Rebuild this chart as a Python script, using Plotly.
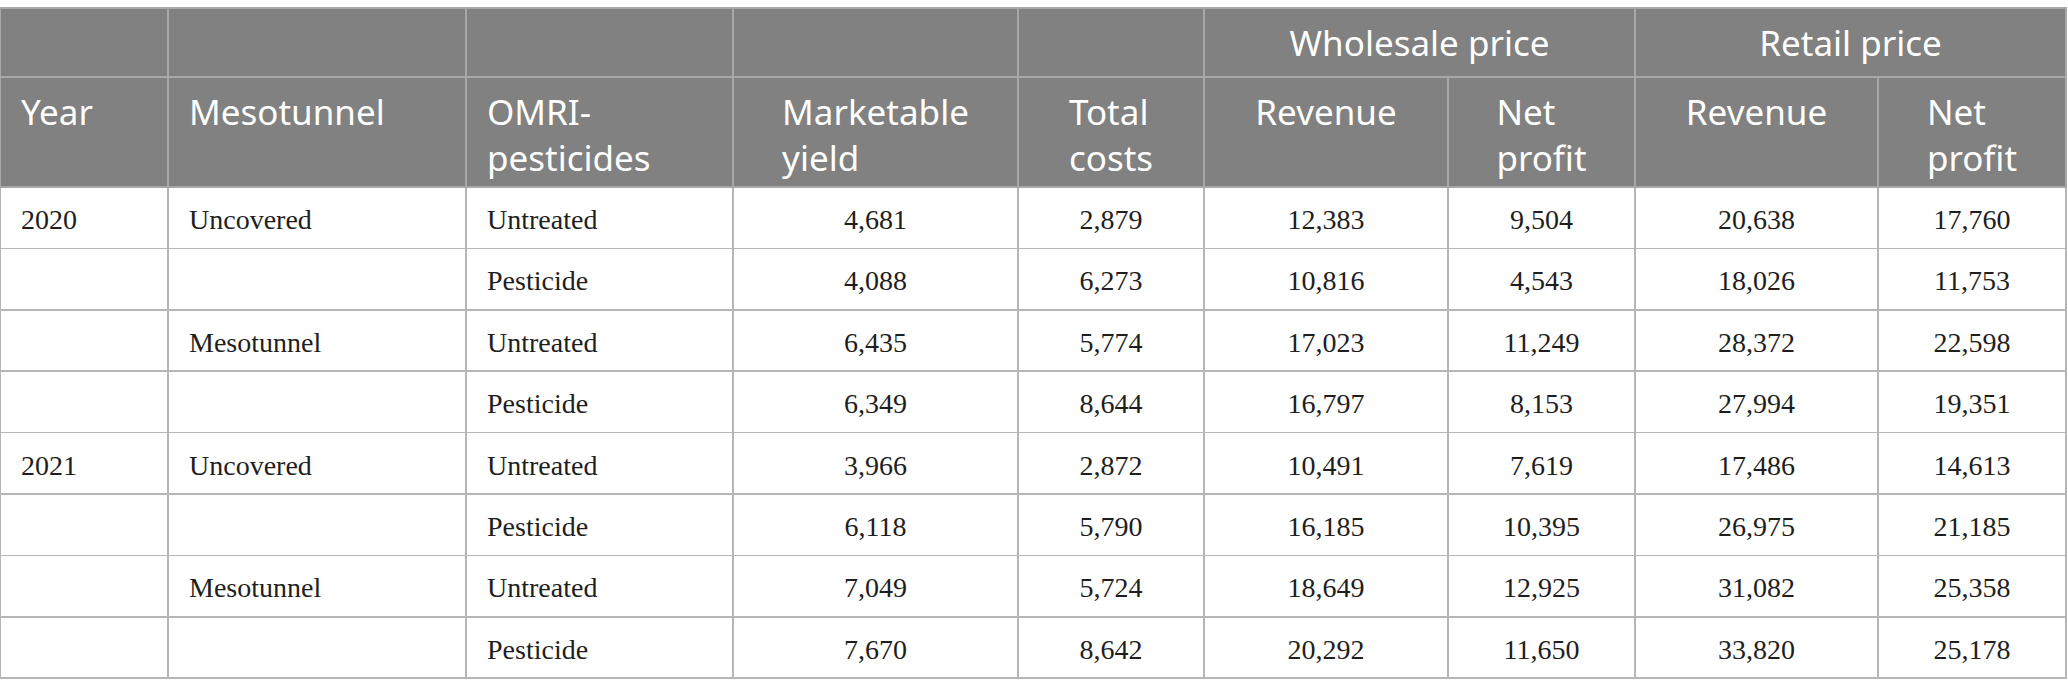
import plotly.graph_objects as go

# table data
years = ['2020', '', '', '', '2021', '', '', '']
tunnel = ['Uncovered', '', 'Mesotunnel', '', 'Uncovered', '', 'Mesotunnel', '']
pesticides = ['Untreated', 'Pesticide'] * 4
market_yield = [4681, 4088, 6435, 6349, 3966, 6118, 7049, 7670]
total_costs = [2879, 6273, 5774, 8644, 2872, 5790, 5724, 8642]
ws_revenue = [12383, 10816, 17023, 16797, 10491, 16185, 18649, 20292]
ws_profit = [9504, 4543, 11249, 8153, 7619, 10395, 12925, 11650]
rt_revenue = [20638, 18026, 28372, 27994, 17486, 26975, 31082, 33820]
rt_profit = [17760, 11753, 22598, 19351, 14613, 21185, 25358, 25178]

group_labels = ['', '', '', '', '', 'Wholesale price', 'Retail price']
col_labels = ['Year', 'Mesotunnel', 'OMRI-<br>pesticides', 'Marketable<br>yield',
              'Total<br>costs', 'Revenue', 'Net<br>profit', 'Revenue', 'Net<br>profit']

col_widths = [168, 298, 267, 285, 186, 244, 187, 243, 188]
group_widths = col_widths[:5] + [col_widths[5] + col_widths[6], col_widths[7] + col_widths[8]]

W, H = 2068, 696
top, row1, row2, body_h = 8, 69, 110, 61.4
x_end = sum(col_widths) / W
n_rows = len(years)

# plotly puts cell text at the top of a cell; the text layers are drawn as
# separate transparent tables nudged down so the text sits like the original
shift_group, shift_head, shift_body = 3, 3, 9
left_pad = 13

head_fill = 'rgb(128,129,128)'
head_line = 'rgb(168,168,168)'
body_line = 'rgb(182,182,182)'
clear = 'rgba(0,0,0,0)'
head_font = dict(family='Noto Sans', size=35, color='white')
body_font = dict(family='Liberation Serif', size=28, color='rgb(30,30,30)')


def lines(vals):
    # a <br> in every label makes plotly lay them out the same way
    return [v if (not v or '<br>' in v) else v + '<br>' for v in vals]


def fmt(vals):
    return lines(['{:,}'.format(v) for v in vals])


def y_dom(offset, bottom=None):
    lo = 0 if bottom is None else 1 - bottom / H
    return [lo, 1 - offset / H]


fig = go.Figure()

# grid layers
fig.add_trace(go.Table(
    domain=dict(x=[0, x_end], y=y_dom(top, top + row1)),
    columnwidth=group_widths,
    header=dict(values=[''] * len(group_widths), height=row1, fill_color=head_fill,
                line=dict(color=head_line, width=1.5)),
    cells=dict(values=[[] for _ in group_widths]),
))
fig.add_trace(go.Table(
    domain=dict(x=[0, x_end], y=y_dom(top + row1)),
    columnwidth=col_widths,
    header=dict(values=[''] * len(col_widths), height=row2, fill_color=head_fill,
                line=dict(color=head_line, width=1.5)),
    cells=dict(values=[[''] * n_rows for _ in col_widths], height=body_h,
               fill_color='white', line=dict(color=body_line, width=1.5)),
))

# text layers
fig.add_trace(go.Table(
    domain=dict(x=[0, x_end], y=y_dom(top + shift_group, top + row1 + shift_group)),
    columnwidth=group_widths,
    header=dict(values=lines(group_labels), height=row1, fill_color=clear,
                line=dict(color=clear, width=0), align='center', font=head_font),
    cells=dict(values=[[] for _ in group_widths]),
))

# narrow empty spacer columns give the left-aligned columns their indent
text_widths = []
head_vals = []
body_vals = []
aligns = []
body_cols = [years, tunnel, pesticides, fmt(market_yield), fmt(total_costs),
             fmt(ws_revenue), fmt(ws_profit), fmt(rt_revenue), fmt(rt_profit)]
for i, (w, lab, col) in enumerate(zip(col_widths, col_labels, body_cols)):
    if i < 3:
        text_widths += [left_pad, w - left_pad]
        head_vals += ['', lines([lab])[0]]
        body_vals += [[''] * n_rows, lines(col)]
        aligns += ['left', 'left']
    else:
        text_widths.append(w)
        head_vals += lines([lab])
        body_vals.append(col)
        aligns.append('center')

fig.add_trace(go.Table(
    domain=dict(x=[0, x_end], y=y_dom(top + row1 + shift_head)),
    columnwidth=text_widths,
    header=dict(values=head_vals, height=row2 - shift_head + shift_body,
                fill_color=clear, line=dict(color=clear, width=0),
                align=aligns, font=head_font),
    cells=dict(values=body_vals, height=body_h, fill_color=clear,
               line=dict(color=clear, width=0), align=aligns, font=body_font),
))

fig.update_layout(width=W, height=H, margin=dict(l=0, r=0, t=0, b=0),
                  paper_bgcolor='white')

fig.write_html('out.html', config={'displayModeBar': False},
               post_script="document.body.style.margin='0';")
